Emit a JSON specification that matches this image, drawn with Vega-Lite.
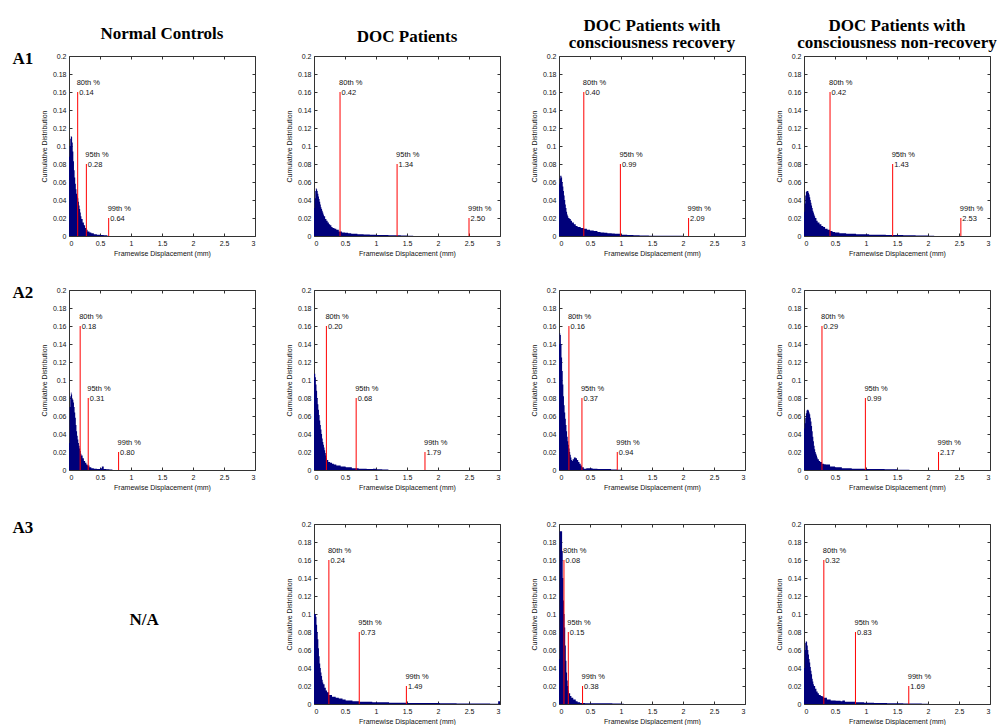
{
  "$schema": "https://vega.github.io/schema/vega-lite/v6.json",
  "background": "white",
  "padding": {"left": 11, "top": 16, "right": 0, "bottom": 0},
  "config": {
    "view": {"stroke": "#333", "strokeWidth": 1},
    "axis": {"domain": false, "grid": false, "tickColor": "#333", "tickSize": -3, "labelFont": "Liberation Sans", "labelFontSize": 7, "labelColor": "#111", "titleFont": "Liberation Sans", "titleFontSize": 7, "titleFontWeight": "normal", "titleColor": "#111", "labelPadding": 6},
    "axisX": {"titlePadding": 3},
    "axisY": {"titlePadding": 5},
    "title": {"font": "Liberation Serif", "fontSize": 17, "fontWeight": "bold", "color": "black", "anchor": "middle", "frame": "group", "baseline": "bottom", "lineHeight": 17}
  },
  "datasets": {
    "pct": [
      {"p": "A1-NC", "q": "80th %", "v": 0.14, "h": 0.16}, {"p": "A1-NC", "q": "95th %", "v": 0.28, "h": 0.08}, {"p": "A1-NC", "q": "99th %", "v": 0.64, "h": 0.02},
      {"p": "A1-DOC", "q": "80th %", "v": 0.42, "h": 0.16}, {"p": "A1-DOC", "q": "95th %", "v": 1.34, "h": 0.08}, {"p": "A1-DOC", "q": "99th %", "v": 2.50, "h": 0.02},
      {"p": "A1-REC", "q": "80th %", "v": 0.40, "h": 0.16}, {"p": "A1-REC", "q": "95th %", "v": 0.99, "h": 0.08}, {"p": "A1-REC", "q": "99th %", "v": 2.09, "h": 0.02},
      {"p": "A1-NON", "q": "80th %", "v": 0.42, "h": 0.16}, {"p": "A1-NON", "q": "95th %", "v": 1.43, "h": 0.08}, {"p": "A1-NON", "q": "99th %", "v": 2.53, "h": 0.02},
      {"p": "A2-NC", "q": "80th %", "v": 0.18, "h": 0.16}, {"p": "A2-NC", "q": "95th %", "v": 0.31, "h": 0.08}, {"p": "A2-NC", "q": "99th %", "v": 0.80, "h": 0.02},
      {"p": "A2-DOC", "q": "80th %", "v": 0.20, "h": 0.16}, {"p": "A2-DOC", "q": "95th %", "v": 0.68, "h": 0.08}, {"p": "A2-DOC", "q": "99th %", "v": 1.79, "h": 0.02},
      {"p": "A2-REC", "q": "80th %", "v": 0.16, "h": 0.16}, {"p": "A2-REC", "q": "95th %", "v": 0.37, "h": 0.08}, {"p": "A2-REC", "q": "99th %", "v": 0.94, "h": 0.02},
      {"p": "A2-NON", "q": "80th %", "v": 0.29, "h": 0.16}, {"p": "A2-NON", "q": "95th %", "v": 0.99, "h": 0.08}, {"p": "A2-NON", "q": "99th %", "v": 2.17, "h": 0.02},
      {"p": "A3-DOC", "q": "80th %", "v": 0.24, "h": 0.16}, {"p": "A3-DOC", "q": "95th %", "v": 0.73, "h": 0.08}, {"p": "A3-DOC", "q": "99th %", "v": 1.49, "h": 0.02},
      {"p": "A3-REC", "q": "80th %", "v": 0.08, "h": 0.16}, {"p": "A3-REC", "q": "95th %", "v": 0.15, "h": 0.08}, {"p": "A3-REC", "q": "99th %", "v": 0.38, "h": 0.02},
      {"p": "A3-NON", "q": "80th %", "v": 0.32, "h": 0.16}, {"p": "A3-NON", "q": "95th %", "v": 0.83, "h": 0.08}, {"p": "A3-NON", "q": "99th %", "v": 1.69, "h": 0.02}
    ],
    "hist": [
      {"p":"A1-NC","x":0,"y":0.088},{"p":"A1-NC","x":0.01,"y":0.1},{"p":"A1-NC","x":0.02,"y":0.108},{"p":"A1-NC","x":0.03,"y":0.111},{"p":"A1-NC","x":0.04,"y":0.11},{"p":"A1-NC","x":0.05,"y":0.104},{"p":"A1-NC","x":0.06,"y":0.094},{"p":"A1-NC","x":0.07,"y":0.083},{"p":"A1-NC","x":0.08,"y":0.073},{"p":"A1-NC","x":0.09,"y":0.065},{"p":"A1-NC","x":0.1,"y":0.058},{"p":"A1-NC","x":0.11,"y":0.052},{"p":"A1-NC","x":0.12,"y":0.047},{"p":"A1-NC","x":0.13,"y":0.044},{"p":"A1-NC","x":0.14,"y":0.042},{"p":"A1-NC","x":0.15,"y":0.038},{"p":"A1-NC","x":0.16,"y":0.034},{"p":"A1-NC","x":0.17,"y":0.03},{"p":"A1-NC","x":0.18,"y":0.026},{"p":"A1-NC","x":0.19,"y":0.022},{"p":"A1-NC","x":0.2,"y":0.019},{"p":"A1-NC","x":0.22,"y":0.015},{"p":"A1-NC","x":0.24,"y":0.012},{"p":"A1-NC","x":0.26,"y":0.009},{"p":"A1-NC","x":0.28,"y":0.007},{"p":"A1-NC","x":0.3,"y":0.005},{"p":"A1-NC","x":0.33,"y":0.004},{"p":"A1-NC","x":0.36,"y":0.003},{"p":"A1-NC","x":0.4,"y":0.002},{"p":"A1-NC","x":0.45,"y":0.0015},{"p":"A1-NC","x":0.5,"y":0.001},{"p":"A1-NC","x":0.56,"y":0.0007},{"p":"A1-NC","x":0.62,"y":0},
      {"p":"A1-DOC","x":0,"y":0.031},{"p":"A1-DOC","x":0.01,"y":0.042},{"p":"A1-DOC","x":0.02,"y":0.05},{"p":"A1-DOC","x":0.03,"y":0.053},{"p":"A1-DOC","x":0.04,"y":0.052},{"p":"A1-DOC","x":0.05,"y":0.05},{"p":"A1-DOC","x":0.06,"y":0.047},{"p":"A1-DOC","x":0.07,"y":0.044},{"p":"A1-DOC","x":0.08,"y":0.041},{"p":"A1-DOC","x":0.09,"y":0.038},{"p":"A1-DOC","x":0.1,"y":0.035},{"p":"A1-DOC","x":0.11,"y":0.032},{"p":"A1-DOC","x":0.12,"y":0.03},{"p":"A1-DOC","x":0.13,"y":0.028},{"p":"A1-DOC","x":0.14,"y":0.026},{"p":"A1-DOC","x":0.15,"y":0.024},{"p":"A1-DOC","x":0.16,"y":0.022},{"p":"A1-DOC","x":0.18,"y":0.019},{"p":"A1-DOC","x":0.2,"y":0.017},{"p":"A1-DOC","x":0.22,"y":0.015},{"p":"A1-DOC","x":0.24,"y":0.013},{"p":"A1-DOC","x":0.26,"y":0.012},{"p":"A1-DOC","x":0.28,"y":0.01},{"p":"A1-DOC","x":0.3,"y":0.009},{"p":"A1-DOC","x":0.33,"y":0.008},{"p":"A1-DOC","x":0.36,"y":0.007},{"p":"A1-DOC","x":0.4,"y":0.005},{"p":"A1-DOC","x":0.45,"y":0.004},{"p":"A1-DOC","x":0.5,"y":0.0035},{"p":"A1-DOC","x":0.55,"y":0.003},{"p":"A1-DOC","x":0.6,"y":0.0025},{"p":"A1-DOC","x":0.7,"y":0.002},{"p":"A1-DOC","x":0.8,"y":0.0018},{"p":"A1-DOC","x":0.9,"y":0.0015},{"p":"A1-DOC","x":1.0,"y":0.0012},{"p":"A1-DOC","x":1.1,"y":0.001},{"p":"A1-DOC","x":1.2,"y":0.0009},{"p":"A1-DOC","x":1.3,"y":0.0007},{"p":"A1-DOC","x":1.4,"y":0.0005},{"p":"A1-DOC","x":1.5,"y":0.0003},{"p":"A1-DOC","x":1.6,"y":0},
      {"p":"A1-REC","x":0,"y":0.058},{"p":"A1-REC","x":0.01,"y":0.064},{"p":"A1-REC","x":0.02,"y":0.067},{"p":"A1-REC","x":0.03,"y":0.067},{"p":"A1-REC","x":0.04,"y":0.065},{"p":"A1-REC","x":0.05,"y":0.06},{"p":"A1-REC","x":0.06,"y":0.055},{"p":"A1-REC","x":0.07,"y":0.05},{"p":"A1-REC","x":0.08,"y":0.045},{"p":"A1-REC","x":0.09,"y":0.04},{"p":"A1-REC","x":0.1,"y":0.035},{"p":"A1-REC","x":0.11,"y":0.031},{"p":"A1-REC","x":0.12,"y":0.027},{"p":"A1-REC","x":0.13,"y":0.024},{"p":"A1-REC","x":0.14,"y":0.022},{"p":"A1-REC","x":0.15,"y":0.02},{"p":"A1-REC","x":0.17,"y":0.019},{"p":"A1-REC","x":0.19,"y":0.017},{"p":"A1-REC","x":0.21,"y":0.015},{"p":"A1-REC","x":0.24,"y":0.013},{"p":"A1-REC","x":0.27,"y":0.011},{"p":"A1-REC","x":0.3,"y":0.01},{"p":"A1-REC","x":0.35,"y":0.009},{"p":"A1-REC","x":0.4,"y":0.008},{"p":"A1-REC","x":0.45,"y":0.007},{"p":"A1-REC","x":0.5,"y":0.006},{"p":"A1-REC","x":0.56,"y":0.0055},{"p":"A1-REC","x":0.62,"y":0.0045},{"p":"A1-REC","x":0.67,"y":0.004},{"p":"A1-REC","x":0.73,"y":0.0035},{"p":"A1-REC","x":0.78,"y":0.003},{"p":"A1-REC","x":0.85,"y":0.0027},{"p":"A1-REC","x":0.9,"y":0.0025},{"p":"A1-REC","x":1.0,"y":0.0015},{"p":"A1-REC","x":1.1,"y":0.001},{"p":"A1-REC","x":1.2,"y":0.0008},{"p":"A1-REC","x":1.3,"y":0.0006},{"p":"A1-REC","x":1.45,"y":0.0004},{"p":"A1-REC","x":1.6,"y":0.0003},{"p":"A1-REC","x":1.8,"y":0.0002},{"p":"A1-REC","x":2.0,"y":0},
      {"p":"A1-NON","x":0,"y":0.027},{"p":"A1-NON","x":0.01,"y":0.036},{"p":"A1-NON","x":0.02,"y":0.045},{"p":"A1-NON","x":0.03,"y":0.049},{"p":"A1-NON","x":0.04,"y":0.05},{"p":"A1-NON","x":0.05,"y":0.05},{"p":"A1-NON","x":0.06,"y":0.05},{"p":"A1-NON","x":0.07,"y":0.048},{"p":"A1-NON","x":0.08,"y":0.046},{"p":"A1-NON","x":0.09,"y":0.043},{"p":"A1-NON","x":0.1,"y":0.04},{"p":"A1-NON","x":0.11,"y":0.037},{"p":"A1-NON","x":0.12,"y":0.034},{"p":"A1-NON","x":0.13,"y":0.031},{"p":"A1-NON","x":0.14,"y":0.028},{"p":"A1-NON","x":0.15,"y":0.026},{"p":"A1-NON","x":0.16,"y":0.024},{"p":"A1-NON","x":0.17,"y":0.022},{"p":"A1-NON","x":0.18,"y":0.02},{"p":"A1-NON","x":0.2,"y":0.017},{"p":"A1-NON","x":0.22,"y":0.015},{"p":"A1-NON","x":0.25,"y":0.013},{"p":"A1-NON","x":0.28,"y":0.011},{"p":"A1-NON","x":0.31,"y":0.01},{"p":"A1-NON","x":0.34,"y":0.008},{"p":"A1-NON","x":0.38,"y":0.007},{"p":"A1-NON","x":0.42,"y":0.0055},{"p":"A1-NON","x":0.46,"y":0.0045},{"p":"A1-NON","x":0.5,"y":0.004},{"p":"A1-NON","x":0.57,"y":0.003},{"p":"A1-NON","x":0.68,"y":0.0025},{"p":"A1-NON","x":0.84,"y":0.002},{"p":"A1-NON","x":1.05,"y":0.0015},{"p":"A1-NON","x":1.32,"y":0.001},{"p":"A1-NON","x":1.6,"y":0.0007},{"p":"A1-NON","x":1.8,"y":0.0005},{"p":"A1-NON","x":2.0,"y":0.0004},{"p":"A1-NON","x":2.1,"y":0},
      {"p":"A2-NC","x":0,"y":0.03},{"p":"A2-NC","x":0.01,"y":0.07},{"p":"A2-NC","x":0.02,"y":0.082},{"p":"A2-NC","x":0.03,"y":0.086},{"p":"A2-NC","x":0.04,"y":0.084},{"p":"A2-NC","x":0.05,"y":0.079},{"p":"A2-NC","x":0.06,"y":0.078},{"p":"A2-NC","x":0.07,"y":0.075},{"p":"A2-NC","x":0.08,"y":0.07},{"p":"A2-NC","x":0.09,"y":0.064},{"p":"A2-NC","x":0.1,"y":0.058},{"p":"A2-NC","x":0.11,"y":0.05},{"p":"A2-NC","x":0.12,"y":0.043},{"p":"A2-NC","x":0.13,"y":0.038},{"p":"A2-NC","x":0.14,"y":0.034},{"p":"A2-NC","x":0.15,"y":0.03},{"p":"A2-NC","x":0.16,"y":0.027},{"p":"A2-NC","x":0.17,"y":0.024},{"p":"A2-NC","x":0.18,"y":0.021},{"p":"A2-NC","x":0.19,"y":0.018},{"p":"A2-NC","x":0.2,"y":0.016},{"p":"A2-NC","x":0.22,"y":0.013},{"p":"A2-NC","x":0.24,"y":0.01},{"p":"A2-NC","x":0.26,"y":0.008},{"p":"A2-NC","x":0.28,"y":0.006},{"p":"A2-NC","x":0.3,"y":0.005},{"p":"A2-NC","x":0.33,"y":0.003},{"p":"A2-NC","x":0.36,"y":0.002},{"p":"A2-NC","x":0.4,"y":0.0015},{"p":"A2-NC","x":0.45,"y":0.001},{"p":"A2-NC","x":0.5,"y":0.002},{"p":"A2-NC","x":0.53,"y":0.004},{"p":"A2-NC","x":0.56,"y":0.001},{"p":"A2-NC","x":0.6,"y":0.0008},{"p":"A2-NC","x":0.65,"y":0.0005},{"p":"A2-NC","x":0.7,"y":0},
      {"p":"A2-DOC","x":0,"y":0.107},{"p":"A2-DOC","x":0.02,"y":0.103},{"p":"A2-DOC","x":0.03,"y":0.095},{"p":"A2-DOC","x":0.04,"y":0.088},{"p":"A2-DOC","x":0.05,"y":0.08},{"p":"A2-DOC","x":0.06,"y":0.073},{"p":"A2-DOC","x":0.07,"y":0.067},{"p":"A2-DOC","x":0.08,"y":0.061},{"p":"A2-DOC","x":0.09,"y":0.055},{"p":"A2-DOC","x":0.1,"y":0.05},{"p":"A2-DOC","x":0.11,"y":0.045},{"p":"A2-DOC","x":0.12,"y":0.04},{"p":"A2-DOC","x":0.13,"y":0.035},{"p":"A2-DOC","x":0.14,"y":0.031},{"p":"A2-DOC","x":0.15,"y":0.028},{"p":"A2-DOC","x":0.16,"y":0.025},{"p":"A2-DOC","x":0.17,"y":0.022},{"p":"A2-DOC","x":0.18,"y":0.019},{"p":"A2-DOC","x":0.19,"y":0.016},{"p":"A2-DOC","x":0.2,"y":0.013},{"p":"A2-DOC","x":0.21,"y":0.011},{"p":"A2-DOC","x":0.23,"y":0.009},{"p":"A2-DOC","x":0.26,"y":0.008},{"p":"A2-DOC","x":0.29,"y":0.007},{"p":"A2-DOC","x":0.32,"y":0.006},{"p":"A2-DOC","x":0.36,"y":0.005},{"p":"A2-DOC","x":0.43,"y":0.004},{"p":"A2-DOC","x":0.51,"y":0.003},{"p":"A2-DOC","x":0.61,"y":0.002},{"p":"A2-DOC","x":0.72,"y":0.0015},{"p":"A2-DOC","x":0.85,"y":0.001},{"p":"A2-DOC","x":0.95,"y":0.0013},{"p":"A2-DOC","x":1.0,"y":0.0008},{"p":"A2-DOC","x":1.1,"y":0.0005},{"p":"A2-DOC","x":1.2,"y":0},
      {"p":"A2-REC","x":0,"y":0.14},{"p":"A2-REC","x":0.01,"y":0.152},{"p":"A2-REC","x":0.02,"y":0.15},{"p":"A2-REC","x":0.03,"y":0.14},{"p":"A2-REC","x":0.04,"y":0.125},{"p":"A2-REC","x":0.05,"y":0.11},{"p":"A2-REC","x":0.06,"y":0.095},{"p":"A2-REC","x":0.07,"y":0.082},{"p":"A2-REC","x":0.08,"y":0.072},{"p":"A2-REC","x":0.09,"y":0.064},{"p":"A2-REC","x":0.1,"y":0.057},{"p":"A2-REC","x":0.11,"y":0.05},{"p":"A2-REC","x":0.12,"y":0.043},{"p":"A2-REC","x":0.13,"y":0.037},{"p":"A2-REC","x":0.14,"y":0.032},{"p":"A2-REC","x":0.15,"y":0.028},{"p":"A2-REC","x":0.16,"y":0.024},{"p":"A2-REC","x":0.17,"y":0.02},{"p":"A2-REC","x":0.18,"y":0.017},{"p":"A2-REC","x":0.19,"y":0.014},{"p":"A2-REC","x":0.2,"y":0.011},{"p":"A2-REC","x":0.21,"y":0.01},{"p":"A2-REC","x":0.22,"y":0.012},{"p":"A2-REC","x":0.24,"y":0.014},{"p":"A2-REC","x":0.27,"y":0.013},{"p":"A2-REC","x":0.29,"y":0.011},{"p":"A2-REC","x":0.31,"y":0.009},{"p":"A2-REC","x":0.33,"y":0.007},{"p":"A2-REC","x":0.35,"y":0.005},{"p":"A2-REC","x":0.37,"y":0.003},{"p":"A2-REC","x":0.4,"y":0.0015},{"p":"A2-REC","x":0.44,"y":0.002},{"p":"A2-REC","x":0.54,"y":0.0015},{"p":"A2-REC","x":0.62,"y":0.001},{"p":"A2-REC","x":0.73,"y":0.001},{"p":"A2-REC","x":0.84,"y":0.0006},{"p":"A2-REC","x":0.94,"y":0.0003},{"p":"A2-REC","x":1.0,"y":0},
      {"p":"A2-NON","x":0,"y":0.046},{"p":"A2-NON","x":0.01,"y":0.052},{"p":"A2-NON","x":0.02,"y":0.058},{"p":"A2-NON","x":0.03,"y":0.063},{"p":"A2-NON","x":0.04,"y":0.066},{"p":"A2-NON","x":0.05,"y":0.067},{"p":"A2-NON","x":0.06,"y":0.067},{"p":"A2-NON","x":0.07,"y":0.066},{"p":"A2-NON","x":0.08,"y":0.064},{"p":"A2-NON","x":0.09,"y":0.062},{"p":"A2-NON","x":0.1,"y":0.058},{"p":"A2-NON","x":0.11,"y":0.054},{"p":"A2-NON","x":0.12,"y":0.049},{"p":"A2-NON","x":0.13,"y":0.043},{"p":"A2-NON","x":0.14,"y":0.037},{"p":"A2-NON","x":0.15,"y":0.032},{"p":"A2-NON","x":0.16,"y":0.027},{"p":"A2-NON","x":0.17,"y":0.023},{"p":"A2-NON","x":0.18,"y":0.02},{"p":"A2-NON","x":0.19,"y":0.018},{"p":"A2-NON","x":0.2,"y":0.016},{"p":"A2-NON","x":0.21,"y":0.014},{"p":"A2-NON","x":0.22,"y":0.012},{"p":"A2-NON","x":0.24,"y":0.01},{"p":"A2-NON","x":0.26,"y":0.009},{"p":"A2-NON","x":0.29,"y":0.007},{"p":"A2-NON","x":0.32,"y":0.0065},{"p":"A2-NON","x":0.35,"y":0.006},{"p":"A2-NON","x":0.42,"y":0.004},{"p":"A2-NON","x":0.5,"y":0.003},{"p":"A2-NON","x":0.61,"y":0.002},{"p":"A2-NON","x":0.77,"y":0.0015},{"p":"A2-NON","x":0.98,"y":0.001},{"p":"A2-NON","x":1.3,"y":0.0008},{"p":"A2-NON","x":1.5,"y":0.0004},{"p":"A2-NON","x":1.7,"y":0},
      {"p":"A3-DOC","x":0,"y":0.1},{"p":"A3-DOC","x":0.03,"y":0.097},{"p":"A3-DOC","x":0.04,"y":0.088},{"p":"A3-DOC","x":0.05,"y":0.08},{"p":"A3-DOC","x":0.06,"y":0.072},{"p":"A3-DOC","x":0.07,"y":0.062},{"p":"A3-DOC","x":0.08,"y":0.053},{"p":"A3-DOC","x":0.09,"y":0.045},{"p":"A3-DOC","x":0.1,"y":0.04},{"p":"A3-DOC","x":0.11,"y":0.035},{"p":"A3-DOC","x":0.12,"y":0.031},{"p":"A3-DOC","x":0.13,"y":0.027},{"p":"A3-DOC","x":0.14,"y":0.024},{"p":"A3-DOC","x":0.15,"y":0.022},{"p":"A3-DOC","x":0.17,"y":0.018},{"p":"A3-DOC","x":0.19,"y":0.015},{"p":"A3-DOC","x":0.21,"y":0.013},{"p":"A3-DOC","x":0.24,"y":0.01},{"p":"A3-DOC","x":0.29,"y":0.008},{"p":"A3-DOC","x":0.35,"y":0.007},{"p":"A3-DOC","x":0.4,"y":0.006},{"p":"A3-DOC","x":0.46,"y":0.005},{"p":"A3-DOC","x":0.51,"y":0.004},{"p":"A3-DOC","x":0.62,"y":0.003},{"p":"A3-DOC","x":0.73,"y":0.0025},{"p":"A3-DOC","x":0.94,"y":0.002},{"p":"A3-DOC","x":1.21,"y":0.0015},{"p":"A3-DOC","x":1.49,"y":0.0012},{"p":"A3-DOC","x":1.76,"y":0.001},{"p":"A3-DOC","x":2.03,"y":0.0008},{"p":"A3-DOC","x":2.3,"y":0.0006},{"p":"A3-DOC","x":2.57,"y":0.0005},{"p":"A3-DOC","x":2.84,"y":0.0004},{"p":"A3-DOC","x":2.97,"y":0.003},{"p":"A3-DOC","x":3.0,"y":0},
      {"p":"A3-REC","x":0,"y":0.05},{"p":"A3-REC","x":0.01,"y":0.192},{"p":"A3-REC","x":0.05,"y":0.17},{"p":"A3-REC","x":0.06,"y":0.14},{"p":"A3-REC","x":0.07,"y":0.115},{"p":"A3-REC","x":0.08,"y":0.1},{"p":"A3-REC","x":0.09,"y":0.085},{"p":"A3-REC","x":0.1,"y":0.065},{"p":"A3-REC","x":0.11,"y":0.048},{"p":"A3-REC","x":0.12,"y":0.035},{"p":"A3-REC","x":0.13,"y":0.026},{"p":"A3-REC","x":0.14,"y":0.02},{"p":"A3-REC","x":0.15,"y":0.015},{"p":"A3-REC","x":0.16,"y":0.012},{"p":"A3-REC","x":0.18,"y":0.009},{"p":"A3-REC","x":0.2,"y":0.007},{"p":"A3-REC","x":0.23,"y":0.005},{"p":"A3-REC","x":0.27,"y":0.003},{"p":"A3-REC","x":0.3,"y":0.002},{"p":"A3-REC","x":0.34,"y":0.0012},{"p":"A3-REC","x":0.42,"y":0.0008},{"p":"A3-REC","x":0.6,"y":0.0007},{"p":"A3-REC","x":0.86,"y":0.0006},{"p":"A3-REC","x":1.0,"y":0.0004},{"p":"A3-REC","x":1.05,"y":0},
      {"p":"A3-NON","x":0,"y":0.04},{"p":"A3-NON","x":0.01,"y":0.06},{"p":"A3-NON","x":0.02,"y":0.068},{"p":"A3-NON","x":0.03,"y":0.07},{"p":"A3-NON","x":0.04,"y":0.069},{"p":"A3-NON","x":0.05,"y":0.065},{"p":"A3-NON","x":0.06,"y":0.06},{"p":"A3-NON","x":0.07,"y":0.055},{"p":"A3-NON","x":0.08,"y":0.05},{"p":"A3-NON","x":0.09,"y":0.046},{"p":"A3-NON","x":0.1,"y":0.041},{"p":"A3-NON","x":0.11,"y":0.037},{"p":"A3-NON","x":0.12,"y":0.033},{"p":"A3-NON","x":0.13,"y":0.028},{"p":"A3-NON","x":0.14,"y":0.025},{"p":"A3-NON","x":0.15,"y":0.022},{"p":"A3-NON","x":0.16,"y":0.02},{"p":"A3-NON","x":0.18,"y":0.017},{"p":"A3-NON","x":0.2,"y":0.014},{"p":"A3-NON","x":0.22,"y":0.012},{"p":"A3-NON","x":0.24,"y":0.01},{"p":"A3-NON","x":0.27,"y":0.009},{"p":"A3-NON","x":0.3,"y":0.008},{"p":"A3-NON","x":0.32,"y":0.007},{"p":"A3-NON","x":0.37,"y":0.005},{"p":"A3-NON","x":0.43,"y":0.004},{"p":"A3-NON","x":0.51,"y":0.0035},{"p":"A3-NON","x":0.59,"y":0.003},{"p":"A3-NON","x":0.62,"y":0.004},{"p":"A3-NON","x":0.66,"y":0.0025},{"p":"A3-NON","x":0.83,"y":0.002},{"p":"A3-NON","x":0.97,"y":0.0015},{"p":"A3-NON","x":1.13,"y":0.001},{"p":"A3-NON","x":1.34,"y":0.0008},{"p":"A3-NON","x":1.6,"y":0.0005},{"p":"A3-NON","x":1.9,"y":0.0003},{"p":"A3-NON","x":2.0,"y":0}
    ]
  },
  "columns": 4,
  "bounds": "flush",
  "spacing": {"row": 54, "column": 59},
  "concat": [
    {"width": 186, "height": 180, "title": {"text": "Normal Controls", "offset": 6},
     "layer": [
      {"data": {"name": "hist"}, "transform": [{"filter": "datum.p === 'A1-NC'"}], "mark": {"type": "area", "interpolate": "step-after", "color": "#00007a"},
       "encoding": {"x": {"field": "x", "type": "quantitative", "scale": {"domain": [0, 3], "nice": false}, "axis": {"title": "Framewise Displacement (mm)", "tickCount": 6, "format": "~g"}},
                    "y": {"field": "y", "type": "quantitative", "scale": {"domain": [0, 0.2], "nice": false}, "axis": {"title": "Cumulative Distribution", "tickCount": 10, "format": "~g"}}}},
      {"data": {"name": "pct"}, "transform": [{"filter": "datum.p === 'A1-NC'"}], "mark": {"type": "rule", "color": "#ff0000"},
       "encoding": {"x": {"field": "v", "type": "quantitative", "axis": {"orient": "top", "labels": false, "title": null, "tickCount": 6}},
                    "y": {"field": "h", "type": "quantitative", "axis": {"orient": "right", "labels": false, "tickCount": 10, "title": "A1", "titleX": -243, "titleY": 7, "titleAngle": 0, "titleAlign": "left", "titleBaseline": "alphabetic", "titleFont": "Liberation Serif", "titleFontSize": 17, "titleFontWeight": "bold", "titleColor": "black"}},
                    "y2": {"datum": 0}}},
      {"data": {"name": "pct"}, "transform": [{"filter": "datum.p === 'A1-NC'"}], "mark": {"type": "text", "align": "left", "baseline": "middle", "dx": -1, "dy": -9, "fontSize": 7.5, "font": "Liberation Sans", "color": "#111"},
       "encoding": {"x": {"field": "v", "type": "quantitative", "axis": null}, "y": {"field": "h", "type": "quantitative", "axis": null}, "text": {"field": "q"}}},
      {"data": {"name": "pct"}, "transform": [{"filter": "datum.p === 'A1-NC'"}], "mark": {"type": "text", "align": "left", "baseline": "middle", "dx": 1.5, "dy": 1, "fontSize": 7.5, "font": "Liberation Sans", "color": "#111"},
       "encoding": {"x": {"field": "v", "type": "quantitative", "axis": null}, "y": {"field": "h", "type": "quantitative", "axis": null}, "text": {"field": "v", "format": ".2f"}}}
     ],
     "resolve": {"axis": {"x": "independent", "y": "independent"}}},
    {"width": 186, "height": 180, "title": {"text": "DOC Patients", "offset": 6},
     "layer": [
      {"data": {"name": "hist"}, "transform": [{"filter": "datum.p === 'A1-DOC'"}], "mark": {"type": "area", "interpolate": "step-after", "color": "#00007a"},
       "encoding": {"x": {"field": "x", "type": "quantitative", "scale": {"domain": [0, 3], "nice": false}, "axis": {"title": "Framewise Displacement (mm)", "tickCount": 6, "format": "~g"}},
                    "y": {"field": "y", "type": "quantitative", "scale": {"domain": [0, 0.2], "nice": false}, "axis": {"title": "Cumulative Distribution", "tickCount": 10, "format": "~g"}}}},
      {"data": {"name": "pct"}, "transform": [{"filter": "datum.p === 'A1-DOC'"}], "mark": {"type": "rule", "color": "#ff0000"},
       "encoding": {"x": {"field": "v", "type": "quantitative", "axis": {"orient": "top", "labels": false, "title": null, "tickCount": 6}},
                    "y": {"field": "h", "type": "quantitative", "axis": {"orient": "right", "labels": false, "tickCount": 10, "title": null}},
                    "y2": {"datum": 0}}},
      {"data": {"name": "pct"}, "transform": [{"filter": "datum.p === 'A1-DOC'"}], "mark": {"type": "text", "align": "left", "baseline": "middle", "dx": -1, "dy": -9, "fontSize": 7.5, "font": "Liberation Sans", "color": "#111"},
       "encoding": {"x": {"field": "v", "type": "quantitative", "axis": null}, "y": {"field": "h", "type": "quantitative", "axis": null}, "text": {"field": "q"}}},
      {"data": {"name": "pct"}, "transform": [{"filter": "datum.p === 'A1-DOC'"}], "mark": {"type": "text", "align": "left", "baseline": "middle", "dx": 1.5, "dy": 1, "fontSize": 7.5, "font": "Liberation Sans", "color": "#111"},
       "encoding": {"x": {"field": "v", "type": "quantitative", "axis": null}, "y": {"field": "h", "type": "quantitative", "axis": null}, "text": {"field": "v", "format": ".2f"}}}
     ],
     "resolve": {"axis": {"x": "independent", "y": "independent"}}},
    {"width": 186, "height": 180, "title": {"text": ["DOC Patients with", "consciousness recovery"], "offset": 0},
     "layer": [
      {"data": {"name": "hist"}, "transform": [{"filter": "datum.p === 'A1-REC'"}], "mark": {"type": "area", "interpolate": "step-after", "color": "#00007a"},
       "encoding": {"x": {"field": "x", "type": "quantitative", "scale": {"domain": [0, 3], "nice": false}, "axis": {"title": "Framewise Displacement (mm)", "tickCount": 6, "format": "~g"}},
                    "y": {"field": "y", "type": "quantitative", "scale": {"domain": [0, 0.2], "nice": false}, "axis": {"title": "Cumulative Distribution", "tickCount": 10, "format": "~g"}}}},
      {"data": {"name": "pct"}, "transform": [{"filter": "datum.p === 'A1-REC'"}], "mark": {"type": "rule", "color": "#ff0000"},
       "encoding": {"x": {"field": "v", "type": "quantitative", "axis": {"orient": "top", "labels": false, "title": null, "tickCount": 6}},
                    "y": {"field": "h", "type": "quantitative", "axis": {"orient": "right", "labels": false, "tickCount": 10, "title": null}},
                    "y2": {"datum": 0}}},
      {"data": {"name": "pct"}, "transform": [{"filter": "datum.p === 'A1-REC'"}], "mark": {"type": "text", "align": "left", "baseline": "middle", "dx": -1, "dy": -9, "fontSize": 7.5, "font": "Liberation Sans", "color": "#111"},
       "encoding": {"x": {"field": "v", "type": "quantitative", "axis": null}, "y": {"field": "h", "type": "quantitative", "axis": null}, "text": {"field": "q"}}},
      {"data": {"name": "pct"}, "transform": [{"filter": "datum.p === 'A1-REC'"}], "mark": {"type": "text", "align": "left", "baseline": "middle", "dx": 1.5, "dy": 1, "fontSize": 7.5, "font": "Liberation Sans", "color": "#111"},
       "encoding": {"x": {"field": "v", "type": "quantitative", "axis": null}, "y": {"field": "h", "type": "quantitative", "axis": null}, "text": {"field": "v", "format": ".2f"}}}
     ],
     "resolve": {"axis": {"x": "independent", "y": "independent"}}},
    {"width": 186, "height": 180, "title": {"text": ["DOC Patients with", "consciousness non-recovery"], "offset": 0},
     "layer": [
      {"data": {"name": "hist"}, "transform": [{"filter": "datum.p === 'A1-NON'"}], "mark": {"type": "area", "interpolate": "step-after", "color": "#00007a"},
       "encoding": {"x": {"field": "x", "type": "quantitative", "scale": {"domain": [0, 3], "nice": false}, "axis": {"title": "Framewise Displacement (mm)", "tickCount": 6, "format": "~g"}},
                    "y": {"field": "y", "type": "quantitative", "scale": {"domain": [0, 0.2], "nice": false}, "axis": {"title": "Cumulative Distribution", "tickCount": 10, "format": "~g"}}}},
      {"data": {"name": "pct"}, "transform": [{"filter": "datum.p === 'A1-NON'"}], "mark": {"type": "rule", "color": "#ff0000"},
       "encoding": {"x": {"field": "v", "type": "quantitative", "axis": {"orient": "top", "labels": false, "title": null, "tickCount": 6}},
                    "y": {"field": "h", "type": "quantitative", "axis": {"orient": "right", "labels": false, "tickCount": 10, "title": null}},
                    "y2": {"datum": 0}}},
      {"data": {"name": "pct"}, "transform": [{"filter": "datum.p === 'A1-NON'"}], "mark": {"type": "text", "align": "left", "baseline": "middle", "dx": -1, "dy": -9, "fontSize": 7.5, "font": "Liberation Sans", "color": "#111"},
       "encoding": {"x": {"field": "v", "type": "quantitative", "axis": null}, "y": {"field": "h", "type": "quantitative", "axis": null}, "text": {"field": "q"}}},
      {"data": {"name": "pct"}, "transform": [{"filter": "datum.p === 'A1-NON'"}], "mark": {"type": "text", "align": "left", "baseline": "middle", "dx": 1.5, "dy": 1, "fontSize": 7.5, "font": "Liberation Sans", "color": "#111"},
       "encoding": {"x": {"field": "v", "type": "quantitative", "axis": null}, "y": {"field": "h", "type": "quantitative", "axis": null}, "text": {"field": "v", "format": ".2f"}}}
     ],
     "resolve": {"axis": {"x": "independent", "y": "independent"}}},
    {"width": 186, "height": 180,
     "layer": [
      {"data": {"name": "hist"}, "transform": [{"filter": "datum.p === 'A2-NC'"}], "mark": {"type": "area", "interpolate": "step-after", "color": "#00007a"},
       "encoding": {"x": {"field": "x", "type": "quantitative", "scale": {"domain": [0, 3], "nice": false}, "axis": {"title": "Framewise Displacement (mm)", "tickCount": 6, "format": "~g"}},
                    "y": {"field": "y", "type": "quantitative", "scale": {"domain": [0, 0.2], "nice": false}, "axis": {"title": "Cumulative Distribution", "tickCount": 10, "format": "~g"}}}},
      {"data": {"name": "pct"}, "transform": [{"filter": "datum.p === 'A2-NC'"}], "mark": {"type": "rule", "color": "#ff0000"},
       "encoding": {"x": {"field": "v", "type": "quantitative", "axis": {"orient": "top", "labels": false, "title": null, "tickCount": 6}},
                    "y": {"field": "h", "type": "quantitative", "axis": {"orient": "right", "labels": false, "tickCount": 10, "title": "A2", "titleX": -243, "titleY": 7, "titleAngle": 0, "titleAlign": "left", "titleBaseline": "alphabetic", "titleFont": "Liberation Serif", "titleFontSize": 17, "titleFontWeight": "bold", "titleColor": "black"}},
                    "y2": {"datum": 0}}},
      {"data": {"name": "pct"}, "transform": [{"filter": "datum.p === 'A2-NC'"}], "mark": {"type": "text", "align": "left", "baseline": "middle", "dx": -1, "dy": -9, "fontSize": 7.5, "font": "Liberation Sans", "color": "#111"},
       "encoding": {"x": {"field": "v", "type": "quantitative", "axis": null}, "y": {"field": "h", "type": "quantitative", "axis": null}, "text": {"field": "q"}}},
      {"data": {"name": "pct"}, "transform": [{"filter": "datum.p === 'A2-NC'"}], "mark": {"type": "text", "align": "left", "baseline": "middle", "dx": 1.5, "dy": 1, "fontSize": 7.5, "font": "Liberation Sans", "color": "#111"},
       "encoding": {"x": {"field": "v", "type": "quantitative", "axis": null}, "y": {"field": "h", "type": "quantitative", "axis": null}, "text": {"field": "v", "format": ".2f"}}}
     ],
     "resolve": {"axis": {"x": "independent", "y": "independent"}}},
    {"width": 186, "height": 180,
     "layer": [
      {"data": {"name": "hist"}, "transform": [{"filter": "datum.p === 'A2-DOC'"}], "mark": {"type": "area", "interpolate": "step-after", "color": "#00007a"},
       "encoding": {"x": {"field": "x", "type": "quantitative", "scale": {"domain": [0, 3], "nice": false}, "axis": {"title": "Framewise Displacement (mm)", "tickCount": 6, "format": "~g"}},
                    "y": {"field": "y", "type": "quantitative", "scale": {"domain": [0, 0.2], "nice": false}, "axis": {"title": "Cumulative Distribution", "tickCount": 10, "format": "~g"}}}},
      {"data": {"name": "pct"}, "transform": [{"filter": "datum.p === 'A2-DOC'"}], "mark": {"type": "rule", "color": "#ff0000"},
       "encoding": {"x": {"field": "v", "type": "quantitative", "axis": {"orient": "top", "labels": false, "title": null, "tickCount": 6}},
                    "y": {"field": "h", "type": "quantitative", "axis": {"orient": "right", "labels": false, "tickCount": 10, "title": null}},
                    "y2": {"datum": 0}}},
      {"data": {"name": "pct"}, "transform": [{"filter": "datum.p === 'A2-DOC'"}], "mark": {"type": "text", "align": "left", "baseline": "middle", "dx": -1, "dy": -9, "fontSize": 7.5, "font": "Liberation Sans", "color": "#111"},
       "encoding": {"x": {"field": "v", "type": "quantitative", "axis": null}, "y": {"field": "h", "type": "quantitative", "axis": null}, "text": {"field": "q"}}},
      {"data": {"name": "pct"}, "transform": [{"filter": "datum.p === 'A2-DOC'"}], "mark": {"type": "text", "align": "left", "baseline": "middle", "dx": 1.5, "dy": 1, "fontSize": 7.5, "font": "Liberation Sans", "color": "#111"},
       "encoding": {"x": {"field": "v", "type": "quantitative", "axis": null}, "y": {"field": "h", "type": "quantitative", "axis": null}, "text": {"field": "v", "format": ".2f"}}}
     ],
     "resolve": {"axis": {"x": "independent", "y": "independent"}}},
    {"width": 186, "height": 180,
     "layer": [
      {"data": {"name": "hist"}, "transform": [{"filter": "datum.p === 'A2-REC'"}], "mark": {"type": "area", "interpolate": "step-after", "color": "#00007a"},
       "encoding": {"x": {"field": "x", "type": "quantitative", "scale": {"domain": [0, 3], "nice": false}, "axis": {"title": "Framewise Displacement (mm)", "tickCount": 6, "format": "~g"}},
                    "y": {"field": "y", "type": "quantitative", "scale": {"domain": [0, 0.2], "nice": false}, "axis": {"title": "Cumulative Distribution", "tickCount": 10, "format": "~g"}}}},
      {"data": {"name": "pct"}, "transform": [{"filter": "datum.p === 'A2-REC'"}], "mark": {"type": "rule", "color": "#ff0000"},
       "encoding": {"x": {"field": "v", "type": "quantitative", "axis": {"orient": "top", "labels": false, "title": null, "tickCount": 6}},
                    "y": {"field": "h", "type": "quantitative", "axis": {"orient": "right", "labels": false, "tickCount": 10, "title": null}},
                    "y2": {"datum": 0}}},
      {"data": {"name": "pct"}, "transform": [{"filter": "datum.p === 'A2-REC'"}], "mark": {"type": "text", "align": "left", "baseline": "middle", "dx": -1, "dy": -9, "fontSize": 7.5, "font": "Liberation Sans", "color": "#111"},
       "encoding": {"x": {"field": "v", "type": "quantitative", "axis": null}, "y": {"field": "h", "type": "quantitative", "axis": null}, "text": {"field": "q"}}},
      {"data": {"name": "pct"}, "transform": [{"filter": "datum.p === 'A2-REC'"}], "mark": {"type": "text", "align": "left", "baseline": "middle", "dx": 1.5, "dy": 1, "fontSize": 7.5, "font": "Liberation Sans", "color": "#111"},
       "encoding": {"x": {"field": "v", "type": "quantitative", "axis": null}, "y": {"field": "h", "type": "quantitative", "axis": null}, "text": {"field": "v", "format": ".2f"}}}
     ],
     "resolve": {"axis": {"x": "independent", "y": "independent"}}},
    {"width": 186, "height": 180,
     "layer": [
      {"data": {"name": "hist"}, "transform": [{"filter": "datum.p === 'A2-NON'"}], "mark": {"type": "area", "interpolate": "step-after", "color": "#00007a"},
       "encoding": {"x": {"field": "x", "type": "quantitative", "scale": {"domain": [0, 3], "nice": false}, "axis": {"title": "Framewise Displacement (mm)", "tickCount": 6, "format": "~g"}},
                    "y": {"field": "y", "type": "quantitative", "scale": {"domain": [0, 0.2], "nice": false}, "axis": {"title": "Cumulative Distribution", "tickCount": 10, "format": "~g"}}}},
      {"data": {"name": "pct"}, "transform": [{"filter": "datum.p === 'A2-NON'"}], "mark": {"type": "rule", "color": "#ff0000"},
       "encoding": {"x": {"field": "v", "type": "quantitative", "axis": {"orient": "top", "labels": false, "title": null, "tickCount": 6}},
                    "y": {"field": "h", "type": "quantitative", "axis": {"orient": "right", "labels": false, "tickCount": 10, "title": null}},
                    "y2": {"datum": 0}}},
      {"data": {"name": "pct"}, "transform": [{"filter": "datum.p === 'A2-NON'"}], "mark": {"type": "text", "align": "left", "baseline": "middle", "dx": -1, "dy": -9, "fontSize": 7.5, "font": "Liberation Sans", "color": "#111"},
       "encoding": {"x": {"field": "v", "type": "quantitative", "axis": null}, "y": {"field": "h", "type": "quantitative", "axis": null}, "text": {"field": "q"}}},
      {"data": {"name": "pct"}, "transform": [{"filter": "datum.p === 'A2-NON'"}], "mark": {"type": "text", "align": "left", "baseline": "middle", "dx": 1.5, "dy": 1, "fontSize": 7.5, "font": "Liberation Sans", "color": "#111"},
       "encoding": {"x": {"field": "v", "type": "quantitative", "axis": null}, "y": {"field": "h", "type": "quantitative", "axis": null}, "text": {"field": "v", "format": ".2f"}}}
     ],
     "resolve": {"axis": {"x": "independent", "y": "independent"}}},
    {"width": 186, "height": 180, "view": {"stroke": null},
     "data": {"values": [{"label": "N/A"}]},
     "mark": {"type": "text", "font": "Liberation Serif", "fontSize": 17, "fontWeight": "bold", "align": "center", "baseline": "alphabetic", "color": "black"},
     "encoding": {
       "x": {"datum": 1.21, "type": "quantitative", "scale": {"domain": [0, 3]}, "axis": null},
       "y": {"datum": 0.088, "type": "quantitative", "scale": {"domain": [0, 0.2]}, "axis": {"orient": "right", "labels": false, "ticks": false, "domain": false, "title": "A3", "titleX": -243, "titleY": 8, "titleAngle": 0, "titleAlign": "left", "titleBaseline": "alphabetic", "titleFont": "Liberation Serif", "titleFontSize": 17, "titleFontWeight": "bold", "titleColor": "black"}},
       "text": {"field": "label"}
     }},
    {"width": 186, "height": 180,
     "layer": [
      {"data": {"name": "hist"}, "transform": [{"filter": "datum.p === 'A3-DOC'"}], "mark": {"type": "area", "interpolate": "step-after", "color": "#00007a"},
       "encoding": {"x": {"field": "x", "type": "quantitative", "scale": {"domain": [0, 3], "nice": false}, "axis": {"title": "Framewise Displacement (mm)", "tickCount": 6, "format": "~g"}},
                    "y": {"field": "y", "type": "quantitative", "scale": {"domain": [0, 0.2], "nice": false}, "axis": {"title": "Cumulative Distribution", "tickCount": 10, "format": "~g"}}}},
      {"data": {"name": "pct"}, "transform": [{"filter": "datum.p === 'A3-DOC'"}], "mark": {"type": "rule", "color": "#ff0000"},
       "encoding": {"x": {"field": "v", "type": "quantitative", "axis": {"orient": "top", "labels": false, "title": null, "tickCount": 6}},
                    "y": {"field": "h", "type": "quantitative", "axis": {"orient": "right", "labels": false, "tickCount": 10, "title": null}},
                    "y2": {"datum": 0}}},
      {"data": {"name": "pct"}, "transform": [{"filter": "datum.p === 'A3-DOC'"}], "mark": {"type": "text", "align": "left", "baseline": "middle", "dx": -1, "dy": -9, "fontSize": 7.5, "font": "Liberation Sans", "color": "#111"},
       "encoding": {"x": {"field": "v", "type": "quantitative", "axis": null}, "y": {"field": "h", "type": "quantitative", "axis": null}, "text": {"field": "q"}}},
      {"data": {"name": "pct"}, "transform": [{"filter": "datum.p === 'A3-DOC'"}], "mark": {"type": "text", "align": "left", "baseline": "middle", "dx": 1.5, "dy": 1, "fontSize": 7.5, "font": "Liberation Sans", "color": "#111"},
       "encoding": {"x": {"field": "v", "type": "quantitative", "axis": null}, "y": {"field": "h", "type": "quantitative", "axis": null}, "text": {"field": "v", "format": ".2f"}}}
     ],
     "resolve": {"axis": {"x": "independent", "y": "independent"}}},
    {"width": 186, "height": 180,
     "layer": [
      {"data": {"name": "hist"}, "transform": [{"filter": "datum.p === 'A3-REC'"}], "mark": {"type": "area", "interpolate": "step-after", "color": "#00007a"},
       "encoding": {"x": {"field": "x", "type": "quantitative", "scale": {"domain": [0, 3], "nice": false}, "axis": {"title": "Framewise Displacement (mm)", "tickCount": 6, "format": "~g"}},
                    "y": {"field": "y", "type": "quantitative", "scale": {"domain": [0, 0.2], "nice": false}, "axis": {"title": "Cumulative Distribution", "tickCount": 10, "format": "~g"}}}},
      {"data": {"name": "pct"}, "transform": [{"filter": "datum.p === 'A3-REC'"}], "mark": {"type": "rule", "color": "#ff0000"},
       "encoding": {"x": {"field": "v", "type": "quantitative", "axis": {"orient": "top", "labels": false, "title": null, "tickCount": 6}},
                    "y": {"field": "h", "type": "quantitative", "axis": {"orient": "right", "labels": false, "tickCount": 10, "title": null}},
                    "y2": {"datum": 0}}},
      {"data": {"name": "pct"}, "transform": [{"filter": "datum.p === 'A3-REC'"}], "mark": {"type": "text", "align": "left", "baseline": "middle", "dx": -1, "dy": -9, "fontSize": 7.5, "font": "Liberation Sans", "color": "#111"},
       "encoding": {"x": {"field": "v", "type": "quantitative", "axis": null}, "y": {"field": "h", "type": "quantitative", "axis": null}, "text": {"field": "q"}}},
      {"data": {"name": "pct"}, "transform": [{"filter": "datum.p === 'A3-REC'"}], "mark": {"type": "text", "align": "left", "baseline": "middle", "dx": 1.5, "dy": 1, "fontSize": 7.5, "font": "Liberation Sans", "color": "#111"},
       "encoding": {"x": {"field": "v", "type": "quantitative", "axis": null}, "y": {"field": "h", "type": "quantitative", "axis": null}, "text": {"field": "v", "format": ".2f"}}}
     ],
     "resolve": {"axis": {"x": "independent", "y": "independent"}}},
    {"width": 186, "height": 180,
     "layer": [
      {"data": {"name": "hist"}, "transform": [{"filter": "datum.p === 'A3-NON'"}], "mark": {"type": "area", "interpolate": "step-after", "color": "#00007a"},
       "encoding": {"x": {"field": "x", "type": "quantitative", "scale": {"domain": [0, 3], "nice": false}, "axis": {"title": "Framewise Displacement (mm)", "tickCount": 6, "format": "~g"}},
                    "y": {"field": "y", "type": "quantitative", "scale": {"domain": [0, 0.2], "nice": false}, "axis": {"title": "Cumulative Distribution", "tickCount": 10, "format": "~g"}}}},
      {"data": {"name": "pct"}, "transform": [{"filter": "datum.p === 'A3-NON'"}], "mark": {"type": "rule", "color": "#ff0000"},
       "encoding": {"x": {"field": "v", "type": "quantitative", "axis": {"orient": "top", "labels": false, "title": null, "tickCount": 6}},
                    "y": {"field": "h", "type": "quantitative", "axis": {"orient": "right", "labels": false, "tickCount": 10, "title": null}},
                    "y2": {"datum": 0}}},
      {"data": {"name": "pct"}, "transform": [{"filter": "datum.p === 'A3-NON'"}], "mark": {"type": "text", "align": "left", "baseline": "middle", "dx": -1, "dy": -9, "fontSize": 7.5, "font": "Liberation Sans", "color": "#111"},
       "encoding": {"x": {"field": "v", "type": "quantitative", "axis": null}, "y": {"field": "h", "type": "quantitative", "axis": null}, "text": {"field": "q"}}},
      {"data": {"name": "pct"}, "transform": [{"filter": "datum.p === 'A3-NON'"}], "mark": {"type": "text", "align": "left", "baseline": "middle", "dx": 1.5, "dy": 1, "fontSize": 7.5, "font": "Liberation Sans", "color": "#111"},
       "encoding": {"x": {"field": "v", "type": "quantitative", "axis": null}, "y": {"field": "h", "type": "quantitative", "axis": null}, "text": {"field": "v", "format": ".2f"}}}
     ],
     "resolve": {"axis": {"x": "independent", "y": "independent"}}}
  ]
}
